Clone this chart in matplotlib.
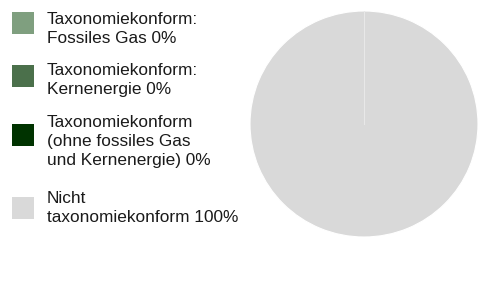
import matplotlib
matplotlib.use("Agg")
import matplotlib.pyplot as plt
from matplotlib.patches import Rectangle

labels = ["Taxonomiekonform:\nFossiles Gas 0%",
          "Taxonomiekonform:\nKernenergie 0%",
          "Taxonomiekonform\n(ohne fossiles Gas\nund Kernenergie) 0%",
          "Nicht\ntaxonomiekonform 100%"]
values = [0, 0, 0, 100]
colors = ["#7f9f7f", "#4b704b", "#003300", "#d9d9d9"]

plt.rcParams['font.family'] = ['Liberation Sans', 'DejaVu Sans']

W, H = 479, 298
fig = plt.figure(figsize=(W / 100, H / 100), dpi=100)

# pie
ax = fig.add_axes([250 / W, (H - 237) / H, 228 / W, 226 / H])
ax.pie(values, colors=colors, startangle=90, counterclock=False, radius=1,
       wedgeprops=dict(edgecolor="white", linewidth=0.8))
ax.set_xlim(-1, 1)
ax.set_ylim(-1, 1)
ax.plot([0, 0], [0, 1], color="#e8e8e8", lw=0.8)
ax.set_aspect("auto")

# legend drawn by hand
box_top = [12, 65, 124, 197]
text_top = [12, 63, 115, 191]
for i in range(len(labels)):
    fig.patches.append(Rectangle((12 / W, 1 - (box_top[i] + 22) / H), 22 / W, 22 / H,
                                 transform=fig.transFigure, facecolor=colors[i],
                                 edgecolor="none"))
    fig.text(47 / W, 1 - text_top[i] / H, labels[i], fontsize=12.4, va="top",
             ha="left", color="#1a1a1a", linespacing=1.33)

fig.savefig("out.png", dpi=100)
